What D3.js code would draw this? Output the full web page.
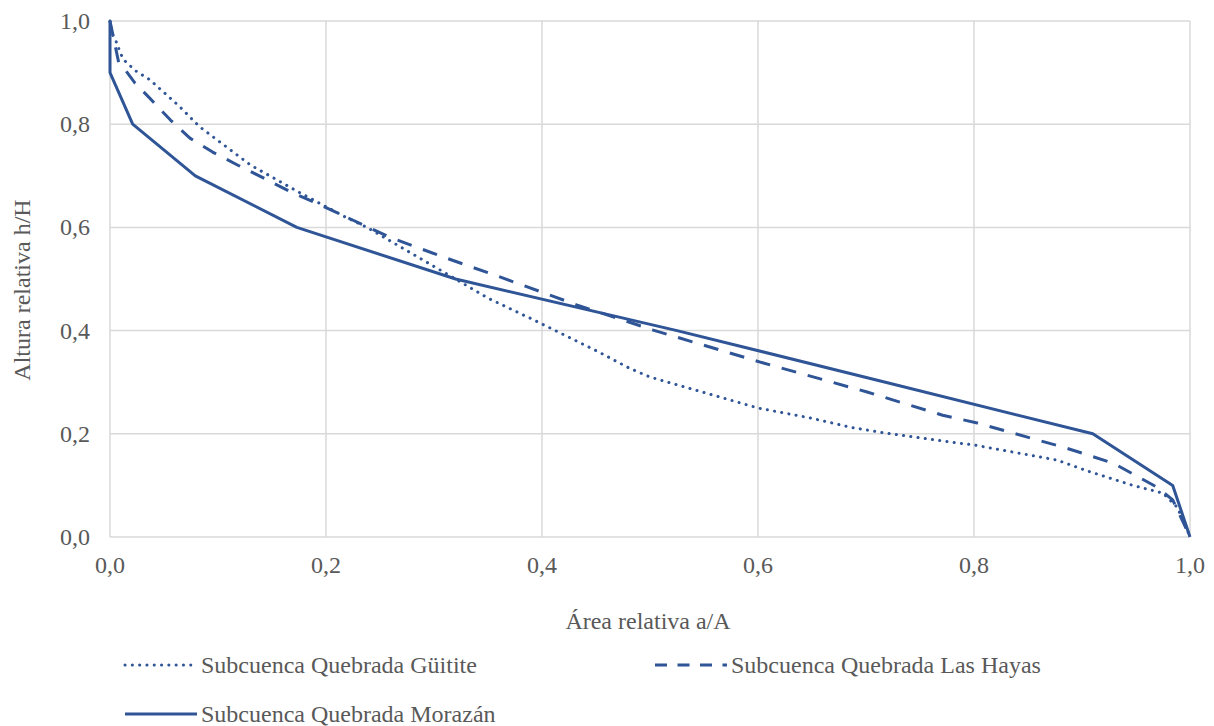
<!DOCTYPE html>
<html>
<head>
<meta charset="utf-8">
<script src="https://cdn.jsdelivr.net/npm/d3@7"></script>
<style>
  body { margin: 0; background: #fff; }
</style>
</head>
<body>
<div id="vis"></div>
<script>
// values
var guititeX = [0, 0.003, 0.007, 0.009, 0.013, 0.024, 0.037, 0.065, 0.083, 0.13, 0.176, 0.218, 0.238, 0.306, 0.35, 0.398, 0.454, 0.481, 0.5, 0.6, 0.65, 0.685, 0.713, 0.778, 0.801, 0.877, 0.905, 0.947, 0.975, 0.988, 0.995, 1.0];
var guititeY = [1.0, 0.97, 0.955, 0.94, 0.924, 0.903, 0.886, 0.833, 0.795, 0.721, 0.667, 0.62, 0.6, 0.517, 0.463, 0.415, 0.357, 0.327, 0.31, 0.25, 0.23, 0.213, 0.203, 0.184, 0.178, 0.149, 0.128, 0.1, 0.085, 0.058, 0.027, 0.0];

var hayasX = [0, 0.005, 0.008, 0.016, 0.023, 0.037, 0.056, 0.074, 0.095, 0.118, 0.142, 0.167, 0.19, 0.259, 0.308, 0.361, 0.407, 0.432, 0.503, 0.602, 0.701, 0.771, 0.803, 0.886, 0.929, 0.969, 0.984, 1.0];
var hayasY = [1.0, 0.95, 0.92, 0.9, 0.88, 0.85, 0.808, 0.773, 0.746, 0.721, 0.696, 0.669, 0.648, 0.581, 0.543, 0.504, 0.469, 0.45, 0.401, 0.339, 0.281, 0.236, 0.221, 0.172, 0.143, 0.097, 0.072, 0.0];

var morazanX = [0, 0, 0.021, 0.079, 0.173, 0.32, 0.525, 0.718, 0.91, 0.984, 1.0];
var morazanY = [1.0, 0.9, 0.8, 0.7, 0.6, 0.5, 0.4, 0.3, 0.2, 0.1, 0.0];

var seriesNames = ['Subcuenca Quebrada Güitite', 'Subcuenca Quebrada Las Hayas', 'Subcuenca Quebrada Morazán'];
var xTicks = [0, 0.2, 0.4, 0.6, 0.8, 1.0];
var yTicks = [0, 0.2, 0.4, 0.6, 0.8, 1.0];

var width = 1214, height = 726;
var margin = { top: 21, left: 110, right: 24, bottom: 189 };
var blue = '#2f5597';
var font = "'Liberation Serif', 'Times New Roman', serif";

var svg = d3.select('#vis').append('svg')
  .attr('width', width)
  .attr('height', height)
  .style('font-family', font);

var x = d3.scaleLinear().domain([0, 1]).range([margin.left, width - margin.right]);
var y = d3.scaleLinear().domain([0, 1]).range([height - margin.bottom, margin.top]);

var fmt = function(d) { return d.toFixed(1).replace('.', ','); };

// gridlines
svg.append('g').selectAll('line.gx')
  .data(xTicks)
  .enter().append('line')
  .attr('x1', function(d) { return x(d); })
  .attr('x2', function(d) { return x(d); })
  .attr('y1', y(0)).attr('y2', y(1))
  .attr('stroke', '#d9d9d9').attr('stroke-width', 1.5);

svg.append('g').selectAll('line.gy')
  .data(yTicks)
  .enter().append('line')
  .attr('y1', function(d) { return y(d); })
  .attr('y2', function(d) { return y(d); })
  .attr('x1', x(0)).attr('x2', x(1))
  .attr('stroke', '#d9d9d9').attr('stroke-width', 1.5);

// tick labels
svg.append('g').selectAll('text')
  .data(xTicks)
  .enter().append('text')
  .attr('x', function(d) { return x(d); })
  .attr('y', y(0) + 36)
  .attr('text-anchor', 'middle')
  .attr('fill', '#595959')
  .style('font-size', '24px')
  .text(fmt);

svg.append('g').selectAll('text')
  .data(yTicks)
  .enter().append('text')
  .attr('x', 90)
  .attr('y', function(d) { return y(d) + 8; })
  .attr('text-anchor', 'end')
  .attr('fill', '#595959')
  .style('font-size', '24px')
  .text(fmt);

// axis titles
svg.append('text')
  .attr('x', 648).attr('y', 629)
  .attr('text-anchor', 'middle')
  .attr('fill', '#595959')
  .style('font-size', '24px')
  .text('Área relativa a/A');

svg.append('text')
  .attr('transform', 'translate(30,' + 290 + ') rotate(-90)')
  .attr('text-anchor', 'middle')
  .attr('fill', '#595959')
  .style('font-size', '24px')
  .text('Altura relativa h/H');

// series
var series = [
  { xs: guititeX, ys: guititeY, dash: '0.1 7.2', cap: 'round' },
  { xs: hayasX, ys: hayasY, dash: '15 12', cap: 'butt' },
  { xs: morazanX, ys: morazanY, dash: null, cap: 'butt' }
];

var line = d3.line()
  .x(function(d) { return x(d[0]); })
  .y(function(d) { return y(d[1]); });

svg.append('g').selectAll('path')
  .data(series)
  .enter().append('path')
  .attr('d', function(s) { return line(d3.zip(s.xs, s.ys)); })
  .attr('fill', 'none')
  .attr('stroke', blue)
  .attr('stroke-width', 3)
  .attr('stroke-linecap', function(s) { return s.cap; })
  .attr('stroke-linejoin', 'round')
  .attr('stroke-dasharray', function(s) { return s.dash; });

// legend
var legPos = [[125, 665], [655, 665], [125, 714]];
var leg = svg.append('g').selectAll('g')
  .data(series)
  .enter().append('g')
  .attr('transform', function(d, i) { return 'translate(' + legPos[i][0] + ',' + legPos[i][1] + ')'; });

leg.append('line')
  .attr('x1', 0).attr('x2', 72)
  .attr('y1', 0).attr('y2', 0)
  .attr('stroke', blue)
  .attr('stroke-width', 3)
  .attr('stroke-linecap', function(s) { return s.cap; })
  .attr('stroke-dasharray', function(s) { return s.dash === '15 12' ? '12 10.5' : s.dash; });

leg.append('text')
  .attr('x', 76).attr('y', 8)
  .attr('fill', '#595959')
  .style('font-size', '24px')
  .text(function(d, i) { return seriesNames[i]; });
</script>
</body>
</html>
